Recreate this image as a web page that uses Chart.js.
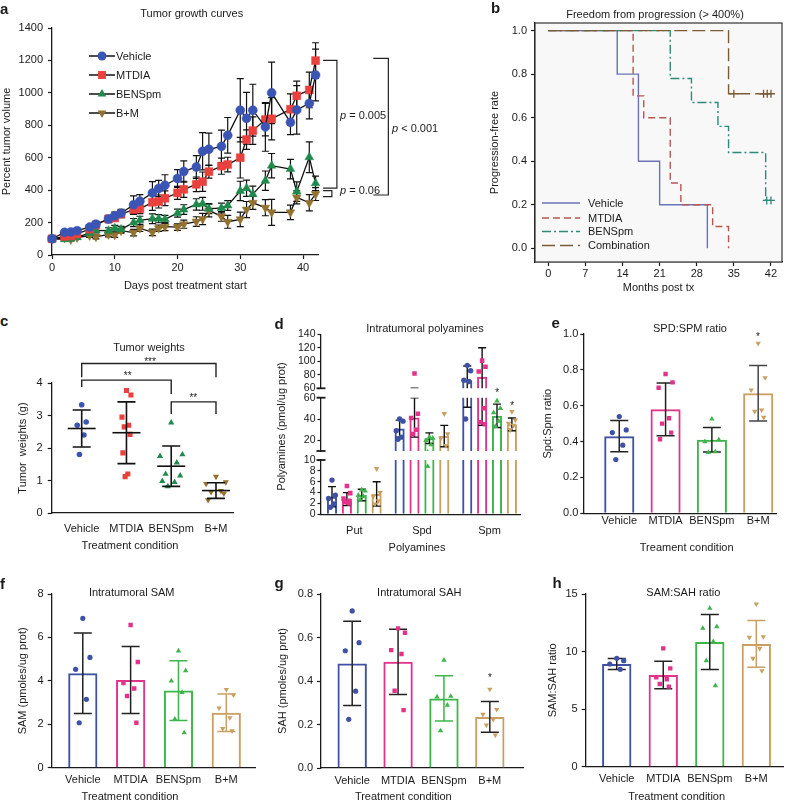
<!DOCTYPE html>
<html>
<head>
<meta charset="utf-8">
<script src="https://cdn.jsdelivr.net/npm/chart.js@4.4.1/dist/chart.umd.min.js"></script>
<style>
  body { margin: 0; width: 790px; height: 801px; position: relative; background: #fff; overflow: hidden;
         font-family: 'Liberation Sans', Arial, Helvetica, sans-serif; color: #1a1a1a; }
  canvas { position: absolute; }
  .t { position: absolute; white-space: nowrap; font-size: 11px; line-height: 1; transform: translate(-50%, -50%); }
  .tl { position: absolute; white-space: nowrap; font-size: 11px; line-height: 1; transform: translate(0, -50%); }
  .L { position: absolute; font-weight: bold; font-size: 15px; line-height: 1; }
</style>
</head>
<body>
<script>
// ---------------- data ----------------
const groups = ['Vehicle', 'MTDIA', 'BENSpm', 'B+M'];

// a: tumor growth curves (percent tumor volume, mean ± SEM)
const days = [0, 2, 3, 4, 6, 7, 9, 10, 11, 13, 14, 16, 17, 18, 20, 21, 23, 24, 25, 27, 28, 30, 31, 32, 34, 35, 38, 39, 41, 42];
const volVehicle = [100, 140, 142, 150, 172, 190, 222, 242, 258, 310, 332, 383, 410, 430, 472, 515, 543, 640, 652, 670, 738, 893, 843, 893, 790, 1000, 818, 895, 935, 1110];
const volMtdia = [100, 115, 118, 130, 160, 185, 222, 228, 252, 280, 285, 325, 330, 350, 383, 405, 436, 452, 514, 548, 558, 600, 712, 767, 835, 840, 899, 982, 1018, 1199];
const volBens = [100, 97, 100, 110, 135, 152, 150, 165, 158, 200, 214, 224, 224, 220, 258, 280, 312, 316, 285, 290, 305, 395, 412, 375, 458, 551, 530, 391, 603, 442];
const volBM = [100, 105, 95, 108, 120, 112, 127, 124, 150, 138, 165, 140, 165, 175, 172, 190, 206, 222, 275, 238, 205, 220, 280, 322, 292, 263, 263, 355, 322, 376];
const errVehicle = [0, 12, 12, 14, 16, 18, 22, 22, 24, 55, 40, 70, 50, 65, 55, 65, 70, 115, 100, 100, 110, 195, 160, 160, 150, 190, 75, 150, 95, 160];
const errMtdia = [0, 10, 10, 12, 14, 16, 20, 20, 22, 30, 30, 50, 40, 45, 40, 50, 45, 60, 40, 50, 45, 125, 60, 85, 100, 130, 95, 90, 110, 110];
const errBens = [0, 8, 8, 10, 14, 16, 18, 18, 18, 25, 25, 30, 25, 25, 25, 30, 35, 40, 30, 30, 30, 60, 50, 50, 60, 75, 60, 60, 95, 45];
const errBM = [0, 8, 8, 10, 12, 12, 15, 15, 15, 20, 20, 20, 20, 25, 20, 25, 30, 35, 40, 30, 40, 45, 50, 40, 50, 80, 45, 40, 50, 40];

// b: freedom from progression (Kaplan-Meier)
const kmLabels = ['Vehicle', 'MTDIA', 'BENSpm', 'Combination'];
const kmVehicleT = [0, 13, 17, 21, 30];
const kmVehicleS = [1, 0.8, 0.4, 0.2, 0];
const kmMtdiaT = [0, 16, 18, 23, 25, 31, 34];
const kmMtdiaS = [1, 0.7, 0.6, 0.3, 0.2, 0.1, 0];
const kmBensT = [0, 23, 27, 32, 34, 41, 42];
const kmBensS = [1, 0.78, 0.67, 0.56, 0.44, 0.22, 0.22];
const kmCombT = [0, 34, 42];
const kmCombS = [1, 0.71, 0.71];
const kmBensCensor = [41.2, 42];
const kmCombCensor = [35, 40.6, 41.3, 42];
const kmTicksX = [0, 7, 14, 21, 28, 35, 42];

// c: tumor weights (g)
const wVehicle = [3.33, 2.80, 2.70, 2.40, 1.80];
const wMtdia = [3.77, 3.63, 2.95, 2.70, 2.65, 2.42, 1.85, 1.20, 1.12];
const wBens = [2.78, 1.80, 1.75, 1.55, 1.20, 1.15, 0.98, 0.95, 0.82];
const wBM = [1.12, 0.95, 0.90, 0.68, 0.65, 0.60, 0.40];
const wMean = [2.60, 2.47, 1.44, 0.69];
const wSD = [0.57, 0.95, 0.62, 0.24];

// d: intratumoral polyamines (pmol/ug prot)
const polyLabels = ['Put', 'Spd', 'Spm'];
const putMean = [3.25, 2.8, 3.55, 3.75];
const putSD = [1.85, 1.2, 1.05, 2.25];
const spdMean = [31, 41.5, 22, 24];
const spdSD = [8, 18.5, 5, 10];
const spmMean = [72, 77, 43, 35];
const spmSD = [21, 43, 11, 6];
const putPts = [[6.3, 3.5, 2.9, 1.9, 1.3], [5.2, 3.9, 2.9, 2.5, 2.2, 2.0], [4.5, 4.3, 3.5, 3.3, 2.7], [8.4, 4.0, 3.3, 2.5, 1.9]];
const spdPts = [[40, 38, 29, 23, 21], [82, 45, 41, 30, 26], [23, 22, 20, 16, 8.8], [45, 26, 22, 15]];
const spmPts = [[94, 86, 72, 70, 40], [101, 92, 85, 50, 37, 35], [57, 50, 46, 38, 33], [47, 39, 36, 34, 30]];

// e: Spd:Spm ratio
const ratioMean = [0.43, 0.58, 0.41, 0.67];
const ratioSD = [0.087, 0.147, 0.068, 0.155];
const ratioPts = [[0.54, 0.465, 0.45, 0.38, 0.30], [0.777, 0.73, 0.70, 0.53, 0.50, 0.45, 0.413], [0.526, 0.41, 0.40, 0.344, 0.34], [0.948, 0.756, 0.688, 0.576, 0.569, 0.535]];

// f: intratumoral SAM (pmoles/ug prot)
const samMean = [4.35, 4.04, 3.55, 2.53];
const samSD = [1.85, 1.54, 1.38, 0.86];
const samPts = [[6.88, 5.08, 4.53, 3.15, 2.07], [6.57, 4.87, 3.9, 3.65, 3.3, 2.07], [5.38, 4.47, 4.0, 3.47, 2.24, 1.61], [3.6, 3.35, 2.75, 2.3, 1.8, 1.7]];

// g: intratumoral SAH (pmoles/ug prot)
const sahMean = [0.481, 0.488, 0.32, 0.235];
const sahSD = [0.194, 0.15, 0.104, 0.071];
const sahPts = [[0.722, 0.576, 0.539, 0.353, 0.224], [0.642, 0.622, 0.542, 0.524, 0.355, 0.266], [0.496, 0.33, 0.327, 0.289, 0.171], [0.362, 0.269, 0.247, 0.223, 0.197, 0.151]];

// h: SAM:SAH ratio
const ssMean = [8.92, 7.96, 10.83, 10.66];
const ssSD = [0.48, 1.2, 2.39, 2.03];
const ssPts = [[9.41, 9.21, 8.92, 8.46], [10.28, 8.54, 7.76, 7.59, 7.18, 6.95], [13.76, 12.16, 12.02, 10.86, 9.21, 7.04], [14.13, 11.29, 11.24, 10.28, 9.41, 8.34]];

// ---------------- styles ----------------
const lineCol = ['#3a55b4', '#e8413e', '#1f8a4c', '#93722f'];
const barCol = ['#3f51a3', '#e2338a', '#3db54a', '#c9a062'];
const kmCol = ['#6b73b5', '#b8574f', '#2f8a78', '#7b5a34'];
const kmDash = [[], [7, 4], [9, 3, 2, 3], [13, 5]];
const shapes = ['circle', 'rect', 'triangle', 'triangle'];
const rots = [0, 0, 0, 180];
const jit = [0, 1, -1, 0.5, -0.5, 0.8, -0.8, 0.3, -0.3];
const ink = '#1a1a1a';
const font11 = "11px 'Liberation Sans', Arial, Helvetica, sans-serif";

Chart.defaults.font.family = "'Liberation Sans', Arial, Helvetica, sans-serif";
Chart.defaults.font.size = 11;
Chart.defaults.color = ink;
Chart.defaults.animation = false;
Chart.defaults.responsive = false;
Chart.defaults.maintainAspectRatio = false;
Chart.defaults.events = [];
Chart.defaults.plugins.legend.display = false;
Chart.defaults.plugins.tooltip.enabled = false;

// place a canvas so that its plot area lands on x0..x1 / y0..y1 of the page
function mount(c, cfg) {
    const cv = document.createElement('canvas');
    const w = c.cr - c.cl, h = c.cb - c.ct;
    cv.width = w; cv.height = h;
    cv.style.cssText = `left:${c.cl}px;top:${c.ct}px;width:${w}px;height:${h}px`;
    document.body.appendChild(cv);
    const half = 0.6 * (c.tfs || 11);
    const pl = c.yTitleX != null ? c.yTitleX - half - c.cl : 0;
    const xH = c.xTitleY != null ? c.xTitleY + half - c.y1 : (c.xH || 0);
    const pb = c.cb - c.y1 - xH;
    cfg.options.layout = { padding: { left: pl, top: c.y0 - c.ct, right: c.cr - c.x1, bottom: pb } };
    cfg.options.devicePixelRatio = 1;
    cfg.options.scales.x.afterFit = s => { s.height = xH; s.paddingLeft = 0; s.paddingRight = 0; s.paddingTop = 0; s.paddingBottom = 0; };
    cfg.options.scales.y.afterFit = s => { s.width = c.x0 - c.cl - pl; s.paddingLeft = 0; s.paddingRight = 0; s.paddingTop = 0; s.paddingBottom = 0; };
    return new Chart(cv, cfg);
}

function axis(o) {
    const a = {
        type: 'linear', min: o.min, max: o.max, offset: false, display: o.display ?? true,
        ticks: {
            includeBounds: false, padding: o.pad ?? 4, color: ink, font: { size: o.fs || 11 }, maxRotation: 0, autoSkip: false,
            callback: o.cb || (v => Number.isInteger(v) ? String(v) : v.toFixed(1))
        },
        grid: { offset: false, drawOnChartArea: false, drawTicks: o.tl !== 0, tickLength: o.tl ?? 4, color: ink, tickColor: ink, tickWidth: 1.2 },
        border: { display: true, color: ink, width: 1.3 },
        title: { display: !!o.title, text: o.title || '', padding: 0, color: ink, font: { size: 11 } }
    };
    if (o.step) a.ticks.stepSize = o.step;
    if (o.ticks) a.afterBuildTicks = s => { s.ticks = o.ticks.map(v => ({ value: v })); };
    return a;
}

function errBar(ctx, px, p1, p2, half) {
    ctx.beginPath();
    ctx.moveTo(px, p1); ctx.lineTo(px, p2);
    ctx.moveTo(px - half, p1); ctx.lineTo(px + half, p1);
    ctx.moveTo(px - half, p2); ctx.lineTo(px + half, p2);
    ctx.stroke();
}

function txt(s, x, y, cls, size) {
    const d = document.createElement('div');
    d.className = cls || 't';
    d.innerHTML = s;
    d.style.left = x + 'px'; d.style.top = y + 'px';
    if (size) d.style.fontSize = size + 'px';
    document.body.appendChild(d);
}

// ---------------- a: tumor growth curves ----------------
const volSeries = [volVehicle, volMtdia, volBens, volBM];
const volErr = [errVehicle, errMtdia, errBens, errBM];
const aBox = { cl: 0, ct: 18, cr: 440, cb: 300, x0: 52, y0: 28, x1: 318.7, y1: 255, yTitleX: 7, xTitleY: 286 };
const aRad = [4.5, 5.6, 5, 5];
const aLegendY = [56, 75, 94, 113];
mount(aBox, {
    type: 'line',
    data: {
        datasets: volSeries.map((s, i) => ({
            label: groups[i],
            data: days.map((d, k) => ({ x: d, y: s[k] })),
            borderColor: '#111', borderWidth: 1.3, tension: 0,
            pointStyle: shapes[i], pointRotation: rots[i], pointRadius: aRad[i],
            pointBackgroundColor: lineCol[i], pointBorderColor: lineCol[i], pointBorderWidth: 0.5,
            order: i + 1, clip: false
        }))
    },
    options: {
        scales: {
            x: axis({ min: 0, max: 42.5, step: 10, pad: 2, title: 'Days post treatment start' }),
            y: axis({ min: 0, max: 1400, step: 200, pad: 5, title: 'Percent tumor volume' })
        }
    },
    plugins: [{
        id: 'aExtras',
        beforeDatasetsDraw(ch) {
            const { ctx, scales: { x, y } } = ch;
            ctx.save(); ctx.strokeStyle = '#111'; ctx.lineWidth = 1.2;
            volSeries.forEach((s, i) => s.forEach((v, k) => {
                const e = volErr[i][k];
                if (!e) return;
                errBar(ctx, x.getPixelForValue(days[k]), y.getPixelForValue(v - e), y.getPixelForValue(v + e), 3.5);
            }));
            ctx.restore();
        },
        afterDraw(ch) {
            const { ctx, scales: { x, y } } = ch;
            ctx.save();
            // legend
            groups.forEach((g, i) => {
                const ly = aLegendY[i] - aBox.ct;
                ctx.strokeStyle = '#111'; ctx.lineWidth = 1.5;
                ctx.beginPath(); ctx.moveTo(89, ly); ctx.lineTo(115, ly); ctx.stroke();
                ctx.fillStyle = lineCol[i];
                Chart.helpers.drawPoint(ctx, { pointStyle: shapes[i], rotation: rots[i], radius: aRad[i], borderWidth: 0 }, 102, ly);
                ctx.fillStyle = ink; ctx.font = font11; ctx.textBaseline = 'middle';
                ctx.fillText(g, 116, ly + 0.5);
            });
            // significance brackets
            ctx.strokeStyle = '#222'; ctx.lineWidth = 1.2;
            const br = (d1, d2, v1, v2) => {
                const a1 = x.getPixelForValue(d1), a2 = x.getPixelForValue(d2);
                const b1 = y.getPixelForValue(v1), b2 = y.getPixelForValue(v2);
                ctx.beginPath(); ctx.moveTo(a1, b1); ctx.lineTo(a2, b1); ctx.lineTo(a2, b2); ctx.lineTo(a1, b2); ctx.stroke();
            };
            br(43.2, 45.4, 1200, 413);
            br(43.2, 44.6, 397, 360);
            br(51.2, 53.6, 1213, 370);
            ctx.restore();
        }
    }]
});
txt('<i>p</i> = 0.005', 340, 115, 'tl');
txt('<i>p</i> &lt; 0.001', 392, 128, 'tl');
txt('<i>p</i> = 0.06', 340, 190, 'tl');

// ---------------- b: Kaplan-Meier ----------------
const kmT = [kmVehicleT, kmMtdiaT, kmBensT, kmCombT];
const kmS = [kmVehicleS, kmMtdiaS, kmBensS, kmCombS];
const bBox = { cl: 488, ct: 13, cr: 790, cb: 300, x0: 535, y0: 23, x1: 782, y1: 262, yTitleX: 495, xTitleY: 288 };
const bLegendY = [203, 218, 231.5, 245.5];
const kmSets = kmT.map((T, i) => ({
    type: 'line', label: kmLabels[i],
    data: T.map((t, k) => ({ x: t, y: kmS[i][k] })),
    stepped: 'before', borderColor: kmCol[i], borderDash: kmDash[i], borderWidth: 1.4,
    pointRadius: 0, fill: false, order: 4 - i
}));
[[kmBensCensor, 2], [kmCombCensor, 3]].forEach(([ts, i]) => kmSets.push({
    type: 'scatter', data: ts.map(t => ({ x: t, y: kmS[i][kmS[i].length - 1] })),
    pointStyle: 'cross', pointRadius: 4, pointBorderColor: kmCol[i], pointBorderWidth: 1.3, order: 0
}));
mount(bBox, {
    type: 'line',
    data: { datasets: kmSets },
    options: {
        scales: {
            x: axis({ min: -2.51, max: 44.08, ticks: kmTicksX, tl: 4, pad: 1, title: 'Months post tx' }),
            y: axis({ min: -0.063, max: 1.035, ticks: [0, 0.2, 0.4, 0.6, 0.8, 1.0], cb: v => v.toFixed(1), tl: 4, pad: 4, title: 'Progression-free rate' })
        }
    },
    plugins: [{
        id: 'bFrame',
        beforeDatasetsDraw(ch) {
            const { ctx, chartArea: a } = ch;
            ctx.save(); ctx.fillStyle = '#f8f8f8'; ctx.fillRect(a.left, a.top, a.width, a.height); ctx.restore();
        },
        afterDraw(ch) {
            const { ctx, chartArea: a } = ch;
            ctx.save();
            ctx.strokeStyle = '#333'; ctx.lineWidth = 1.2;
            ctx.strokeRect(a.left, a.top, a.width, a.height);
            kmLabels.forEach((g, i) => {
                const ly = bLegendY[i] - bBox.ct;
                ctx.strokeStyle = kmCol[i]; ctx.lineWidth = 1.4; ctx.setLineDash(kmDash[i]);
                ctx.beginPath(); ctx.moveTo(542 - bBox.cl, ly); ctx.lineTo(580 - bBox.cl, ly); ctx.stroke();
                ctx.setLineDash([]);
                ctx.fillStyle = ink; ctx.font = font11; ctx.textBaseline = 'middle';
                ctx.fillText(g, 588 - bBox.cl, ly + 0.5);
            });
            ctx.restore();
        }
    }]
});

// ---------------- c: tumor weights ----------------
const wPts = [wVehicle, wMtdia, wBens, wBM];
const cJit = [0.1, 0.1, 0.25, 0.22];
const cRad = [2.8, 3.6, 3.6, 3.6];
mount({ cl: 0, ct: 340, cr: 262, cb: 545, x0: 51.7, y0: 383, x1: 233, y1: 513, yTitleX: 23, xH: 32 }, {
    type: 'scatter',
    data: {
        datasets: wPts.map((vals, i) => ({
            data: vals.map((v, k) => ({ x: i + jit[k % jit.length] * cJit[i], y: v })),
            pointStyle: shapes[i], pointRotation: rots[i], pointRadius: cRad[i],
            pointBackgroundColor: lineCol[i], pointBorderWidth: 0
        }))
    },
    options: {
        scales: {
            x: axis({ min: -0.67, max: 3.38, ticks: [0, 1, 2, 3], cb: v => groups[v], tl: 0, pad: 9 }),
            y: axis({ min: 0, max: 4, step: 1, pad: 5, title: 'Tumor  weights (g)' })
        }
    },
    plugins: [{
        id: 'cStats',
        afterDatasetsDraw(ch) {
            const { ctx, scales: { x, y } } = ch;
            ctx.save(); ctx.strokeStyle = '#111'; ctx.lineWidth = 1.6;
            wMean.forEach((m, i) => {
                const px = x.getPixelForValue(i), py = y.getPixelForValue(m);
                ctx.beginPath(); ctx.moveTo(px - 14, py); ctx.lineTo(px + 14, py); ctx.stroke();
                errBar(ctx, px, y.getPixelForValue(m - wSD[i]), y.getPixelForValue(m + wSD[i]), 9);
            });
            ctx.lineWidth = 1.4; ctx.strokeStyle = '#222';
            const bk = (i1, i2, v, e1, e2) => {
                ctx.beginPath();
                ctx.moveTo(x.getPixelForValue(i1), y.getPixelForValue(e1));
                ctx.lineTo(x.getPixelForValue(i1), y.getPixelForValue(v));
                ctx.lineTo(x.getPixelForValue(i2), y.getPixelForValue(v));
                ctx.lineTo(x.getPixelForValue(i2), y.getPixelForValue(e2));
                ctx.stroke();
            };
            bk(0, 3, 4.6, 4.18, 4.18);
            bk(0, 2, 4.09, 3.88, 3.66);
            bk(2, 3, 3.42, 3.05, 3.05);
            ctx.restore();
        }
    }]
});

// ---------------- d: intratumoral polyamines (broken axis) ----------------
const polyMean = [putMean, spdMean, spmMean];
const polySD = [putSD, spdSD, spmSD];
const polyPts = [putPts, spdPts, spmPts];
function dSegment(box, yo, showX, marks, ytitle) {
    const datasets = [];
    groups.forEach((g, j) => datasets.push({
        type: 'bar', data: polyMean.map((m, i) => ({ x: i, y: m[j] })),
        borderColor: barCol[j], backgroundColor: 'rgba(255,255,255,0)', borderWidth: 2,
        barPercentage: 0.68, categoryPercentage: 0.88, order: 2
    }));
    groups.forEach((g, j) => datasets.push({
        type: 'scatter',
        data: polyPts.flatMap((p, i) => p[j].map((v, k) => ({ x: i + (j - 1.5) * 0.22 + jit[k % jit.length] * 0.05, y: v }))),
        pointStyle: shapes[j], pointRotation: rots[j], pointRadius: j === 0 ? 2.7 : 3.2,
        pointBackgroundColor: barCol[j], pointBorderWidth: 0, order: 1
    }));
    return mount(box, {
        type: 'bar',
        data: { datasets },
        options: {
            scales: {
                x: axis({ min: -0.5, max: 2.45, ticks: [0, 1, 2], cb: v => polyLabels[v], tl: 0, pad: 10, display: showX }),
                y: axis(yo)
            }
        },
        plugins: [{
            id: 'dErr',
            afterDatasetDraw(ch, args) {
                if (args.meta.type !== 'bar') return;
                const j = args.index, { ctx, chartArea: a, scales: { y } } = ch;
                ctx.save();
                ctx.beginPath(); ctx.rect(a.left - 5, a.top, a.width + 10, a.height); ctx.clip();
                ctx.strokeStyle = '#111'; ctx.lineWidth = 1.4;
                args.meta.data.forEach((el, i) => {
                    const m = polyMean[i][j], s = polySD[i][j];
                    errBar(ctx, el.x, y.getPixelForValue(m - s), y.getPixelForValue(m + s), 4);
                });
                ctx.restore();
            },
            afterDraw(ch) {
                const { ctx, chartArea: a } = ch;
                ctx.save(); ctx.strokeStyle = ink; ctx.lineWidth = 1.8;
                marks.forEach(m => {
                    const py = m === 'top' ? a.top : a.bottom;
                    ctx.beginPath(); ctx.moveTo(a.left - 4, py); ctx.lineTo(a.left + 5, py); ctx.stroke();
                });
                if (ytitle) {
                    // one axis title spanning all three segments
                    ctx.translate(ytitle.x - box.cl, ytitle.y - box.ct);
                    ctx.rotate(-Math.PI / 2);
                    ctx.fillStyle = ink; ctx.font = font11; ctx.textAlign = 'center'; ctx.textBaseline = 'middle';
                    ctx.fillText(ytitle.text, 0, 0);
                }
                ctx.restore();
            }
        }]
    });
}
dSegment({ cl: 262, ct: 326, cr: 530, cb: 396, x0: 320.5, y0: 334.3, x1: 520, y1: 388.3 },
    { min: 60, max: 140, step: 20, fs: 10.5, tl: 3, pad: 2 }, false, ['bottom']);
dSegment({ cl: 262, ct: 350, cr: 530, cb: 505, x0: 320.5, y0: 397.7, x1: 520, y1: 451 },
    { min: 10, max: 60, ticks: [20, 40, 60], fs: 10.5, tl: 3, pad: 2 }, false, ['top', 'bottom'],
    { text: 'Polyamines (pmol/ug prot)', x: 282, y: 426.5 });
dSegment({ cl: 262, ct: 451, cr: 530, cb: 545, x0: 320.5, y0: 460, x1: 520, y1: 514.3, xH: 30.7 },
    { min: 0, max: 10, step: 2, fs: 10.5, tl: 3, pad: 2 }, true, ['top']);

// ---------------- e-h: open bar charts with points ----------------
function barPanel(box, mean, sd, pts, yo, xr, bp, errCol, xpad) {
    const datasets = [{
        type: 'bar', data: mean.map((m, i) => ({ x: i, y: m })),
        borderColor: barCol, backgroundColor: 'rgba(255,255,255,0)', borderWidth: 2,
        barPercentage: bp, categoryPercentage: 1, order: 2
    }];
    pts.forEach((p, j) => datasets.push({
        type: 'scatter', data: p.map((v, k) => ({ x: j + jit[k % jit.length] * 0.15, y: v })),
        pointStyle: shapes[j], pointRotation: rots[j], pointRadius: j === 0 ? 2.6 : 3.1,
        pointBackgroundColor: barCol[j], pointBorderWidth: 0, order: 1
    }));
    return mount(box, {
        type: 'bar',
        data: { datasets },
        options: {
            scales: {
                x: axis({ min: xr[0], max: xr[1], ticks: [0, 1, 2, 3], cb: v => groups[v], tl: 0, pad: xpad }),
                y: axis(yo)
            }
        },
        plugins: [{
            id: 'barErr',
            afterDatasetDraw(ch, args) {
                if (args.index !== 0) return;
                const { ctx, scales: { y } } = ch;
                ctx.save(); ctx.lineWidth = 1.5;
                args.meta.data.forEach((el, i) => {
                    ctx.strokeStyle = errCol[i];
                    errBar(ctx, el.x, y.getPixelForValue(mean[i] - sd[i]), y.getPixelForValue(mean[i] + sd[i]), 9);
                });
                ctx.restore();
            }
        }]
    });
}
const dk = '#222';
barPanel({ cl: 530, ct: 322, cr: 790, cb: 545, x0: 583.3, y0: 334, x1: 776.7, y1: 513.3, yTitleX: 548.3, xH: 31.7 },
    ratioMean, ratioSD, ratioPts,
    { min: 0, max: 1, step: 0.2, cb: v => v.toFixed(1), tl: 3, pad: 2, title: 'Spd:Spm ratio' },
    [-0.777, 3.4], 0.65, [dk, dk, dk, '#444'], 1);
barPanel({ cl: 0, ct: 584, cr: 262, cb: 801, x0: 51.7, y0: 594, x1: 255, y1: 767.7, yTitleX: 23.3, xH: 33 },
    samMean, samSD, samPts,
    { min: 0, max: 8, step: 2, tl: 4, pad: 4, title: 'SAM (pmoles/ug prot)' },
    [-0.65, 3.6], 0.61, [dk, dk, barCol[2], barCol[3]], 6);
barPanel({ cl: 262, ct: 584, cr: 528, cb: 801, x0: 321, y0: 594, x1: 523.3, y1: 768, yTitleX: 283.3, xH: 33 },
    sahMean, sahSD, sahPts,
    { min: 0, max: 0.8, step: 0.2, cb: v => v.toFixed(1), tl: 4, pad: 4, title: 'SAH (pmoles/ug prot)' },
    [-0.68, 3.73], 0.64, [dk, dk, barCol[2], dk], 6);
barPanel({ cl: 528, ct: 584, cr: 790, cb: 801, x0: 585.7, y0: 594, x1: 783.3, y1: 766.7, yTitleX: 553.3, xH: 33 },
    ssMean, ssSD, ssPts,
    { min: 0, max: 15, step: 5, tl: 4, pad: 4, title: 'SAM:SAH ratio' },
    [-0.667, 3.58], 0.63, [dk, dk, dk, barCol[3]], 6);

// ---------------- titles, labels, panel letters ----------------
txt('Tumor growth curves', 191.7, 13.3);
txt('Freedom from progression (&gt; 400%)', 655, 14);
txt('Tumor weights', 149, 346.7);
txt('Intratumoral polyamines', 425, 327.7);
txt('SPD:SPM ratio', 690, 328.3);
txt('Intratumoral SAM', 131.7, 591.7);
txt('Intratumoral SAH', 419.3, 591.7);
txt('SAM:SAH ratio', 683.3, 591.7);

txt('Treatment condition', 130, 545);
txt('Polyamines', 417, 547);
txt('Treament condition', 686.7, 547);
txt('Treatment condition', 130, 796);
txt('Treatment condition', 403.3, 796);
txt('Treatment condition', 676.7, 796);

// significance stars
txt('***', 150, 362, 't', 10);
txt('**', 127.7, 376, 't', 10);
txt('**', 193.3, 398, 't', 10);
txt('*', 497.3, 393, 't', 10);
txt('*', 512.3, 405.5, 't', 10);
txt('*', 758, 337, 't', 10);
txt('*', 490, 678, 't', 10);

[['a', 0, 0.5], ['b', 491, 0], ['c', 0, 312.5], ['d', 274.5, 315.5], ['e', 551.5, 314.5],
 ['f', 0, 575.5], ['g', 274.5, 574.5], ['h', 552.5, 574.5]].forEach(([s, x, y]) => {
    const d = document.createElement('div');
    d.className = 'L'; d.textContent = s;
    d.style.left = x + 'px'; d.style.top = y + 'px';
    document.body.appendChild(d);
});
</script>
</body>
</html>
